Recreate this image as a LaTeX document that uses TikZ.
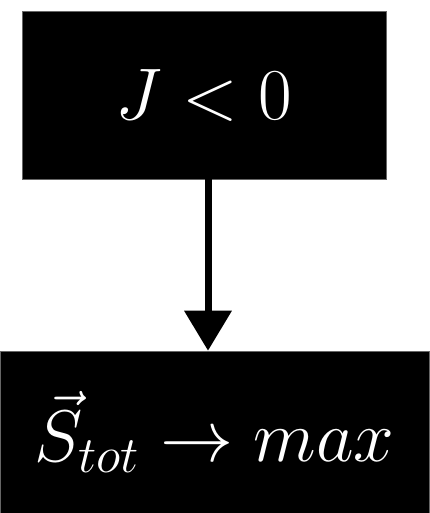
\documentclass[tikz,border=0pt]{standalone}
\usepackage{fix-cm}
\usepackage{amsmath}
\usepackage{tikz}
\usetikzlibrary{arrows.meta, positioning, calc}

\begin{document}
\begin{tikzpicture}[
  cond/.style={rectangle, draw=black!60, fill=black, text=white, minimum width=9.1cm, minimum height=4.2cm, inner sep=0pt, font=\fontsize{52}{60}\selectfont},
  result/.style={rectangle, draw=black!60, fill=black, text=white, minimum width=10.725cm, minimum height=4.05cm, inner sep=0pt, font=\fontsize{52}{60}\selectfont},
  arr/.style={-{Triangle[length=1cm, width=1.15cm]}, line width=0.175cm}
]
\useasboundingbox (0,0) rectangle (10.725,-12.825);
\node[cond] (jneg) at (5.1,-2.375) {$J<0$};
\node[result] (smax) at (5.3625,-10.8) {$\vec{S}_{tot}\rightarrow max$};
\draw[arr] ([xshift=0.1cm]jneg.south) -- ([xshift=0.1cm]jneg.south |- smax.north);
\end{tikzpicture}
\end{document}
